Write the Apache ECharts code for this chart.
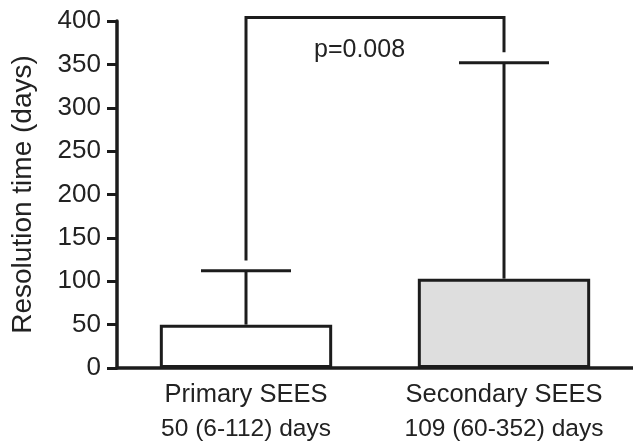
<!DOCTYPE html>
<html>
<head>
<meta charset="utf-8">
<script src="https://cdn.jsdelivr.net/npm/echarts@6/dist/echarts.min.js"></script>
<style>
  html, body { margin: 0; padding: 0; background: #fff; }
  #chart { width: 633px; height: 442px; }
</style>
</head>
<body>
<div id="chart"></div>
<script>
const categories = ['Primary SEES', 'Secondary SEES']
const subLabels = ['50 (6-112) days', '109 (60-352) days']
const medians = [50, 103]
const upperValues = [112, 352]
const barColors = ['#ffffff', '#dedede']
const yTicks = [0, 50, 100, 150, 200, 250, 300, 350, 400]
// significance bracket: top level, then where each leg stops
const bracketTop = 404
const bracketEnds = [124, 364]
const pLabel = 'p=0.008'
const pLabelValue = 367

const ink = '#1c1c1c'
const font = '"Liberation Sans", Arial, sans-serif'

const chart = echarts.init(document.getElementById('chart'))

const option = {
  animation: false,
  grid: { left: 117, top: 21, bottom: 72, width: 524 },
  xAxis: {
    type: 'category',
    data: categories,
    axisLine: { lineStyle: { color: ink, width: 3.5 } },
    axisTick: { alignWithLabel: true, length: 8, lineStyle: { color: ink, width: 3 } },
    axisLabel: {
      margin: 9,
      formatter: (v, i) => `{a|${v}}\n{b|${subLabels[i]}}`,
      rich: {
        a: { fontSize: 25.5, fontFamily: font, color: '#222', lineHeight: 35 },
        b: { fontSize: 24.5, fontFamily: font, color: '#222', lineHeight: 35 }
      }
    }
  },
  yAxis: {
    type: 'value',
    min: yTicks[0],
    max: yTicks[yTicks.length - 1],
    interval: yTicks[1] - yTicks[0],
    name: 'Resolution time (days)',
    nameLocation: 'middle',
    nameGap: 80,
    nameTextStyle: { fontSize: 28, fontFamily: font, color: '#222' },
    axisLine: { show: true, lineStyle: { color: ink, width: 3.5 } },
    axisTick: { show: true, length: 10, lineStyle: { color: ink, width: 3 } },
    axisLabel: { fontSize: 26, fontFamily: font, color: '#222', margin: 16 },
    splitLine: { show: false }
  },
  series: [
    {
      type: 'bar',
      barWidth: '66.8%',
      data: medians.map((v, i) => ({
        value: v,
        itemStyle: { color: barColors[i], borderColor: ink, borderWidth: 3 }
      }))
    },
    {
      type: 'custom',
      clip: false,
      z: 3,
      data: medians.map((m, i) => [i, m, upperValues[i]]),
      renderItem: (params, api) => {
        const base = api.coord([api.value(0), api.value(1)])
        const top = api.coord([api.value(0), api.value(2)])
        const style = { stroke: ink, lineWidth: 3 }
        return {
          type: 'group',
          children: [
            { type: 'line', shape: { x1: base[0], y1: base[1], x2: top[0], y2: top[1] }, style },
            { type: 'line', shape: { x1: top[0] - 45, y1: top[1], x2: top[0] + 45, y2: top[1] }, style }
          ]
        }
      }
    },
    {
      type: 'custom',
      clip: false,
      z: 3,
      data: [[0, 1, bracketTop]],
      renderItem: (params, api) => {
        const a0 = api.coord([0, bracketEnds[0]])
        const a1 = api.coord([0, bracketTop])
        const b1 = api.coord([1, bracketTop])
        const b0 = api.coord([1, bracketEnds[1]])
        const t = api.coord([0, pLabelValue])
        return {
          type: 'group',
          children: [
            {
              type: 'polyline',
              shape: { points: [a0, a1, b1, b0] },
              style: { stroke: ink, lineWidth: 3, fill: null, lineJoin: 'miter' }
            },
            {
              type: 'text',
              x: a1[0] + (b1[0] - a1[0]) * 0.44,
              y: t[1],
              style: {
                text: pLabel, fontSize: 25, fontFamily: font, fill: '#222',
                align: 'center', verticalAlign: 'middle'
              }
            }
          ]
        }
      }
    }
  ]
}

chart.setOption(option)
</script>
</body>
</html>
